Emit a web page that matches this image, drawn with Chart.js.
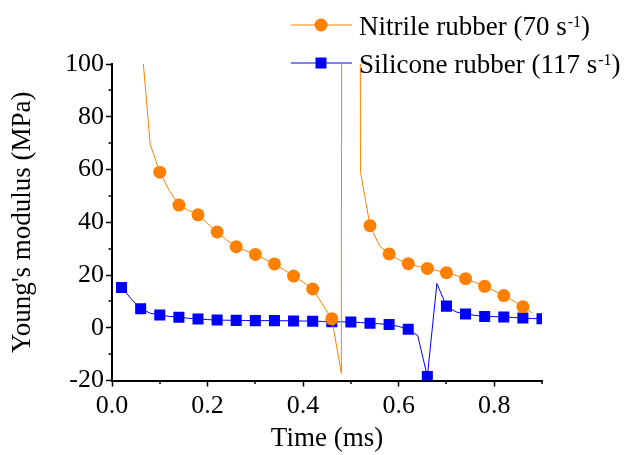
<!DOCTYPE html>
<html lang="en">
<head>
    <meta charset="UTF-8">
    <title>Young's modulus vs time</title>
    <script src="https://cdn.jsdelivr.net/npm/chart.js"></script>
    <style>
        body { margin: 0; background: #fff; }
        #wrap { width: 630px; height: 455px; position: relative; }
    </style>
</head>
<body>
<div id="wrap"><canvas id="chart"></canvas></div>

<script>
// time (ms), one reading every 0.02 ms; markers every second reading
const timeMs = [0.02, 0.04, 0.06, 0.08, 0.10, 0.12, 0.14, 0.16, 0.18, 0.20,
                0.22, 0.24, 0.26, 0.28, 0.30, 0.32, 0.34, 0.36, 0.38, 0.40,
                0.42, 0.44, 0.46, 0.48, 0.50, 0.52, 0.54, 0.56, 0.58, 0.60,
                0.62, 0.64, 0.66, 0.68, 0.70, 0.72, 0.74, 0.76, 0.78, 0.80,
                0.82, 0.84, 0.86, 0.88, 0.90];

// Young's modulus (MPa)
const nitrile = [null, null, 112, 69.5, 59, 52, 46.5, 44.5, 42.8, 39.5,
                 36.3, 33.3, 30.7, 29.2, 27.8, 26, 24.2, 22, 19.6, 17.3,
                 14.7, 9, 3.4, -17.3, 4000, 59.2, 38.7, 31, 28.0, 25.8,
                 24.3, 23.3, 22.5, 21.7, 20.9, 19.8, 18.6, 17.2, 15.7, 14,
                 12.2, 10.2, 8.0, 5.5, null];

const silicone = [15.3, 11, 7.2, 5.5, 4.8, 4.3, 4.0, 3.6, 3.3, 3.1,
                  2.9, 2.85, 2.8, 2.75, 2.7, 2.7, 2.7, 2.65, 2.6, 2.55,
                  2.5, 2.4, 2.3, 2.25, 2.2, 2.0, 1.7, 1.5, 1.2, 0.5,
                  -0.6, -3, -18.5, 16.8, 8.2, 6, 5.2, 4.7, 4.3, 4.2,
                  4.1, 3.9, 3.7, 3.5, 3.4];

const seriesNames = ['Nitrile rubber (70 s', 'Silicone rubber (117 s'];
const xTicksShown = ['0.0', '0.2', '0.4', '0.6', '0.8'];
const yTicksShown = [-20, 0, 20, 40, 60, 80, 100];

const ORANGE = '#ff8000';
const BLUE = '#0000ff';
const SERIF = '"Liberation Serif", "Times New Roman", serif';

function pairUp(values) {
    return timeMs.map((t, i) => ({ x: t, y: values[i] }));
}

function hasMarker(ctx) {
    const k = Math.round(ctx.raw.x * 100) - 2;
    return k % 4 === 0;
}

// minor ticks + legend (legend needs superscripts, so it is drawn by hand)
const extras = {
    id: 'extras',
    afterDraw(chart) {
        const ctx = chart.ctx;
        const xs = chart.scales.x, ys = chart.scales.y;
        ctx.save();
        ctx.strokeStyle = '#000';
        ctx.lineWidth = 1.5;
        ctx.beginPath();
        xs.ticks.forEach(t => {
            const lbl = (Math.round(t.value * 10) / 10).toFixed(1);
            if (xTicksShown.includes(lbl)) return;
            const px = Math.round(xs.getPixelForValue(t.value));
            ctx.moveTo(px, xs.top);
            ctx.lineTo(px, xs.top + 3.5);
        });
        ys.ticks.forEach(t => {
            if (yTicksShown.includes(t.value)) return;
            const py = Math.round(ys.getPixelForValue(t.value));
            ctx.moveTo(ys.right, py);
            ctx.lineTo(ys.right - 3.5, py);
        });
        ctx.stroke();

        const rows = [
            { y: 25, base: 34.5, color: ORANGE, shape: 'circle', text: seriesNames[0] },
            { y: 63, base: 72.5, color: BLUE, shape: 'rect', text: seriesNames[1] }
        ];
        rows.forEach(r => {
            ctx.strokeStyle = r.color;
            ctx.fillStyle = r.color;
            ctx.lineWidth = 1;
            ctx.beginPath();
            ctx.moveTo(291, r.y);
            ctx.lineTo(352, r.y);
            ctx.stroke();
            if (r.shape === 'circle') {
                ctx.beginPath();
                ctx.arc(321, r.y, 6.5, 0, Math.PI * 2);
                ctx.fill();
            } else {
                ctx.fillRect(321 - 5.5, r.y - 5.5, 11, 11);
            }
            ctx.fillStyle = '#000';
            ctx.textBaseline = 'alphabetic';
            ctx.textAlign = 'left';
            ctx.font = '27px ' + SERIF;
            let x = 359;
            ctx.fillText(r.text, x, r.base);
            x += ctx.measureText(r.text).width + 1;
            ctx.font = '16px ' + SERIF;
            ctx.fillText('-1', x, r.base - 8);
            x += ctx.measureText('-1').width;
            ctx.font = '27px ' + SERIF;
            ctx.fillText(')', x, r.base);
        });
        ctx.restore();
    }
};

new Chart(document.getElementById('chart'), {
    type: 'line',
    data: {
        datasets: [
            {
                label: seriesNames[0],
                data: pairUp(nitrile),
                borderColor: ORANGE,
                backgroundColor: ORANGE,
                borderWidth: 1,
                pointBackgroundColor: ORANGE,
                pointBorderWidth: 0,
                pointStyle: 'circle',
                pointRadius: ctx => hasMarker(ctx) ? 6.5 : 0,
                tension: 0,
                spanGaps: false,
                clip: 0
            },
            {
                label: seriesNames[1],
                data: pairUp(silicone),
                borderColor: BLUE,
                backgroundColor: BLUE,
                borderWidth: 1,
                pointBackgroundColor: BLUE,
                pointBorderWidth: 0,
                pointStyle: 'rect',
                pointRadius: ctx => hasMarker(ctx) ? 7.8 : 0,
                tension: 0,
                clip: 0
            }
        ]
    },
    options: {
        responsive: true,
        maintainAspectRatio: false,
        animation: false,
        events: [],
        layout: { padding: { top: 64, right: 88, left: 0, bottom: 0 } },
        plugins: { legend: { display: false }, tooltip: { enabled: false } },
        scales: {
            x: {
                type: 'linear',
                min: 0,
                max: 0.9,
                afterFit: s => { s.height = 74.5; },
                border: { display: true, color: '#000', width: 2 },
                grid: {
                    drawOnChartArea: false,
                    drawTicks: true,
                    tickLength: 6,
                    tickWidth: 1.5,
                    tickColor: ctx => xTicksShown.includes((Math.round(ctx.tick.value * 10) / 10).toFixed(1)) ? '#000' : 'transparent'
                },
                ticks: {
                    stepSize: 0.1,
                    color: '#000',
                    padding: 4,
                    maxRotation: 0,
                    autoSkip: false,
                    font: { family: SERIF, size: 26 },
                    callback: v => {
                        const lbl = (Math.round(v * 10) / 10).toFixed(1);
                        return xTicksShown.includes(lbl) ? lbl : '';
                    }
                },
                title: {
                    display: true,
                    text: 'Time (ms)',
                    color: '#000',
                    font: { family: SERIF, size: 27, lineHeight: 1.2 },
                    padding: { top: 0, bottom: 0 }
                }
            },
            y: {
                type: 'linear',
                min: -20,
                max: 100,
                afterFit: s => { s.width = 112; },
                border: { display: true, color: '#000', width: 2 },
                grid: {
                    drawOnChartArea: false,
                    drawTicks: true,
                    tickLength: 6,
                    tickWidth: 1.5,
                    tickColor: ctx => yTicksShown.includes(ctx.tick.value) ? '#000' : 'transparent'
                },
                ticks: {
                    stepSize: 10,
                    color: '#000',
                    padding: 2,
                    autoSkip: false,
                    font: { family: SERIF, size: 26 },
                    callback: v => yTicksShown.includes(v) ? String(v) : ''
                },
                title: {
                    display: true,
                    text: "Young's modulus (MPa)",
                    color: '#000',
                    font: { family: SERIF, size: 27, lineHeight: 1.2 },
                    padding: { top: 7, bottom: 0 }
                }
            }
        }
    },
    plugins: [extras]
});
</script>
</body>
</html>
